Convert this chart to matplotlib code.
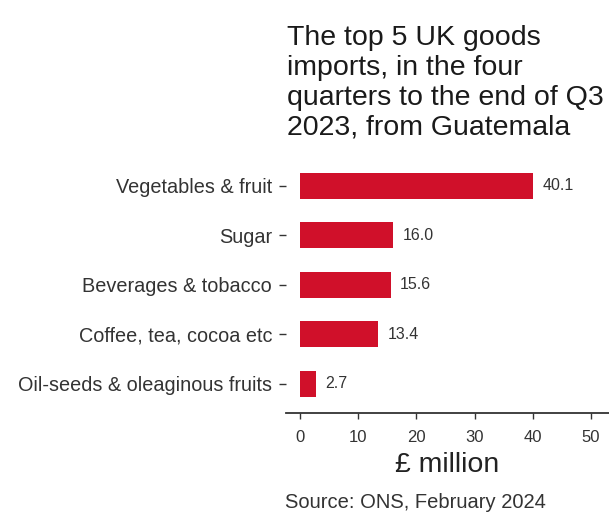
import matplotlib
matplotlib.use("Agg")
import matplotlib.pyplot as plt

# data
categories = ["Vegetables & fruit", "Sugar", "Beverages & tobacco",
              "Coffee, tea, cocoa etc", "Oil-seeds & oleaginous fruits"]
values = [40.1, 16.0, 15.6, 13.4, 2.7]
x_ticks = [0, 10, 20, 30, 40, 50]

title = "The top 5 UK goods\nimports, in the four\nquarters to the end of Q3\n2023, from Guatemala"
source = "Source: ONS, February 2024"

plt.rcParams['font.family'] = ['Liberation Sans', 'DejaVu Sans']

W, H = 609, 512
fig = plt.figure(figsize=(W / 100, H / 100), dpi=100)

# axes placed in pixel coords
left, right, top, bottom = 286, 609, 156, 413
ax = fig.add_axes([left / W, 1 - bottom / H, (right - left) / W, (bottom - top) / H])

bar_col = '#d0102a'
text_col = '#333333'

ypos = list(range(len(categories)))[::-1]
ax.barh(ypos, values, height=0.52, color=bar_col)
for y, v in zip(ypos, values):
    ax.text(v + 1.6, y, f"{v:.1f}", va='center', ha='left', fontsize=11.5, color=text_col)

ax.set_yticks(ypos)
ax.set_yticklabels(categories, fontsize=14.3, color=text_col)
ax.set_xticks(x_ticks)
ax.set_xticklabels([str(t) for t in x_ticks], fontsize=12, color=text_col)
ax.set_xlim(-2.4, 53.1)
ax.set_ylim(-0.59, 4.6)

for s in ['top', 'right', 'left']:
    ax.spines[s].set_visible(False)
ax.spines['bottom'].set_color('#333333')
ax.spines['bottom'].set_linewidth(1.3)
ax.tick_params(axis='y', length=5, width=1, color=text_col, pad=5)
ax.tick_params(axis='x', length=4, width=1, color=text_col, pad=8)

ax.set_xlabel("£ million", fontsize=20.5, color='#222222', labelpad=5)

fig.text(287 / W, 1 - 25 / H, title, fontsize=20.5, color='#1a1a1a',
         ha='left', va='top', linespacing=1.19)
fig.text(285 / W, 1 - 502 / H, source, fontsize=14.5, color=text_col,
         ha='left', va='center')

fig.savefig("out.png", dpi=100)
